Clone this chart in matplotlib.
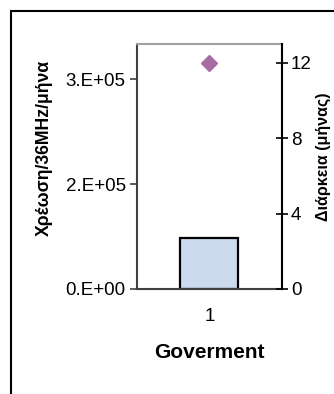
import matplotlib.pyplot as plt
from matplotlib.lines import Line2D

plt.rcParams['font.family'] = ['Liberation Sans', 'DejaVu Sans']

# charge per 36 MHz per month (left axis) and duration in months (right axis)
categories = [1]
charge = [73000]
duration = [12]

fig = plt.figure(figsize=(3.34, 3.94), dpi=100)

# outer chart frame, only left and top edges visible
fig.add_artist(Line2D([11 / 334, 11 / 334], [0, 1 - 11 / 394], transform=fig.transFigure,
                      color='black', lw=1.5))
fig.add_artist(Line2D([11 / 334, 1], [1 - 11 / 394, 1 - 11 / 394], transform=fig.transFigure,
                      color='black', lw=1.5))

ax = fig.add_axes([0.410, 0.2665, 0.434, 0.6218])
ax.bar(categories, charge, width=0.4, color='#cbdaee', edgecolor='black', linewidth=1.6)
ax.set_xlim(0.5, 1.5)
ax.set_ylim(0, 350000)
ax.set_yticks([0, 150000, 300000])
ax.set_yticklabels(['0.E+00', '2.E+05', '3.E+05'])
ax.set_xticks(categories)
ax.set_xticklabels(['1'])
ax.tick_params(axis='x', length=0, pad=14, labelsize=13.5)
ax.tick_params(axis='y', direction='out', length=5, width=1.2, color='#404040',
               pad=3, labelsize=13.5)
ax.spines['left'].set_color('#404040')
ax.spines['left'].set_linewidth(1.5)
ax.spines['bottom'].set_color('#404040')
ax.spines['bottom'].set_linewidth(1.5)
ax.spines['top'].set_color('#a0a0a0')
ax.spines['top'].set_linewidth(1.5)
ax.spines['right'].set_visible(False)
ax.set_xlabel('Goverment', fontsize=15, fontweight='bold', labelpad=13)
ax.set_ylabel('Χρέωση/36MHz/μήνα', fontsize=12.7, fontweight='bold', labelpad=9)
ax.yaxis.label.set_y(0.575)

ax2 = ax.twinx()
ax2.plot(categories, duration, linestyle='none', marker='D', markersize=8,
         color='#a86ca5')
ax2.set_ylim(0, 13)
ax2.set_yticks([0, 4, 8, 12])
ax2.tick_params(axis='y', direction='inout', length=9, width=1.2, color='black',
                pad=2, labelsize=13.5)
ax2.spines['right'].set_color('black')
ax2.spines['right'].set_linewidth(1.5)
for s in ['top', 'left', 'bottom']:
    ax2.spines[s].set_visible(False)
ax2.set_ylabel('Διάρκεια (μήνας)', fontsize=11.5, fontweight='bold', labelpad=3)
ax2.yaxis.label.set_y(0.54)

fig.savefig('out.png', dpi=100)
